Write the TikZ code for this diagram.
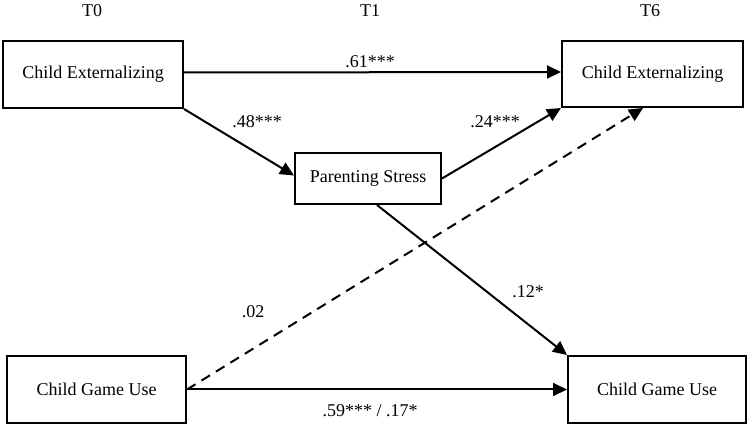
\documentclass[tikz,border=0pt]{standalone}
\usepackage{fontspec}
\setmainfont{Liberation Serif}
\usetikzlibrary{arrows.meta,calc}
\begin{document}
\begin{tikzpicture}[x=1pt,y=-1pt,
  font=\fontsize{18}{21}\selectfont,
  box/.style={draw,line width=2pt,rectangle,inner sep=0pt,align=center},
  arr/.style={line width=2pt,-{Triangle[length=14pt,width=13pt]}},
  dsh/.style={arr,dash pattern=on 10pt off 7pt},
  lbl/.style={inner sep=0pt}]
\useasboundingbox (0,0) rectangle (750,427);
\node[lbl] (t0) at (92,11) {T0};
\node[lbl] (t1) at (370,11) {T1};
\node[lbl] (t6) at (650,11) {T6};
\node[box,minimum width=180pt,minimum height=67pt] (lce) at (93,74.5) {Child Externalizing};
\node[box,minimum width=181pt,minimum height=66pt] (rce) at (652.5,74) {Child Externalizing};
\node[box,minimum width=146pt,minimum height=51pt] (ps) at (368,178.5) {Parenting Stress};
\node[box,minimum width=179pt,minimum height=67pt] (lgu) at (96.5,389.5) {Child Game Use};
\node[box,minimum width=178pt,minimum height=67pt] (rgu) at (657,389.5) {Child Game Use};
\draw[arr] ($(lce.east)+(0,-2)$) -- ($(rce.west)+(0,-2)$);
\draw[arr] (lce.south east) -- ($(ps.west)+(0,-3)$);
\draw[arr] (ps.east) -- (rce.south west);
\draw[dsh] (lgu.east) -- ($(rce.south)+(-9.5,0)$);
\draw[arr] ($(ps.south)+(9,0)$) -- (rgu.north west);
\draw[arr] (lgu.east) -- (rgu.west);
\node[lbl] (l61) at (370,62) {.61***};
\node[lbl] (l48) at (257,122) {.48***};
\node[lbl] (l24) at (495,122) {.24***};
\node[lbl] (l02) at (253,312) {.02};
\node[lbl] (l12) at (528,292) {.12*};
\node[lbl] (l59) at (370,411) {.59*** / .17*};
\end{tikzpicture}
\end{document}
